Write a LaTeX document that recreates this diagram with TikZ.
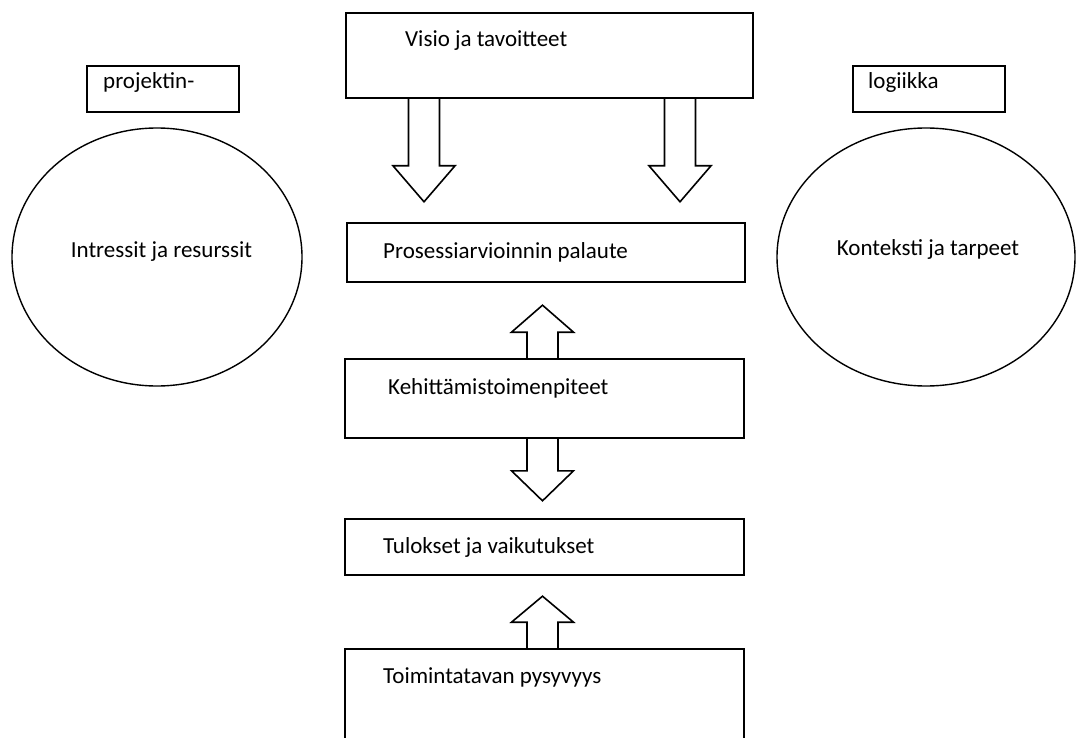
\documentclass[tikz,border=0pt]{standalone}
\usepackage{fontspec}
\setmainfont{Carlito}
\usetikzlibrary{shapes.geometric}
\begin{document}
\begin{tikzpicture}[x=1pt,y=-1pt,
  box/.style={draw, line width=1.6pt, inner sep=0pt},
  oval/.style={draw, ellipse, line width=1.4pt, inner sep=0pt},
  lbl/.style={anchor=base west, inner sep=0pt, font=\fontsize{23}{27}\selectfont},
  clbl/.style={anchor=base, inner sep=0pt, font=\fontsize{23}{27}\selectfont},
  blockline/.style={draw, line width=1.6pt, line join=miter}]
\useasboundingbox (0,0) rectangle (1078,738);
\clip (0,0) rectangle (1078,738);
% boxes
\node[box, minimum width=407pt, minimum height=85pt] (visio) at (549.5,55.5) {};
\node[box, minimum width=398pt, minimum height=59pt] (pros) at (546,252.5) {};
\node[box, minimum width=399pt, minimum height=79pt] (kehit) at (544.5,398.5) {};
\node[box, minimum width=399pt, minimum height=56pt] (tulos) at (544.5,547) {};
\node[box, minimum width=399pt, minimum height=151pt] (toim) at (544.5,724.5) {};
\node[box, minimum width=152pt, minimum height=46pt] (proj) at (163,89) {};
\node[box, minimum width=152pt, minimum height=46pt] (logi) at (929,89) {};
% ellipses
\node[oval, minimum width=290pt, minimum height=258pt] (left) at (157,257) {};
\node[oval, minimum width=298pt, minimum height=258pt] (right) at (926,257) {};
% labels
\node[lbl] (tvisio) at (405,47) {Visio ja tavoitteet};
\node[lbl] (tpros) at (383,258.5) {Prosessiarvioinnin palaute};
\node[lbl] (tkehit) at (388,394.5) {Kehittämistoimenpiteet};
\node[lbl] (ttulos) at (383,553.5) {Tulokset ja vaikutukset};
\node[lbl] (ttoim) at (383,683.5) {Toimintatavan pysyvyys};
\node[lbl] (tproj) at (103,88.5) {projektin-};
\node[lbl] (tlogi) at (868,88.5) {logiikka};
\node[clbl] (tleft) at (161.5,257) {Intressit ja resurssit};
\node[clbl] (tright) at (928,255.5) {Konteksti ja tarpeet};
% block arrows
\draw[blockline] ([xshift=-141pt]visio.south) -- ++(0,67) -- ++(-15.5,0) -- ++(31,36) -- ++(31,-36) -- ++(-15.5,0) -- ++(0,-67);
\draw[blockline] ([xshift=115pt]visio.south) -- ++(0,67) -- ++(-15.5,0) -- ++(31,36) -- ++(31,-36) -- ++(-15.5,0) -- ++(0,-67);
\draw[blockline] ([xshift=-17.5pt]kehit.north) -- ++(0,-26) -- ++(-15.5,0) -- ++(31,-27) -- ++(31,27) -- ++(-15.5,0) -- ++(0,26);
\draw[blockline] ([xshift=-17.5pt]kehit.south) -- ++(0,32) -- ++(-15.5,0) -- ++(31,30) -- ++(31,-30) -- ++(-15.5,0) -- ++(0,-32);
\draw[blockline] ([xshift=-17.5pt]toim.north) -- ++(0,-26) -- ++(-15.5,0) -- ++(31,-26) -- ++(31,26) -- ++(-15.5,0) -- ++(0,26);
\end{tikzpicture}
\end{document}
